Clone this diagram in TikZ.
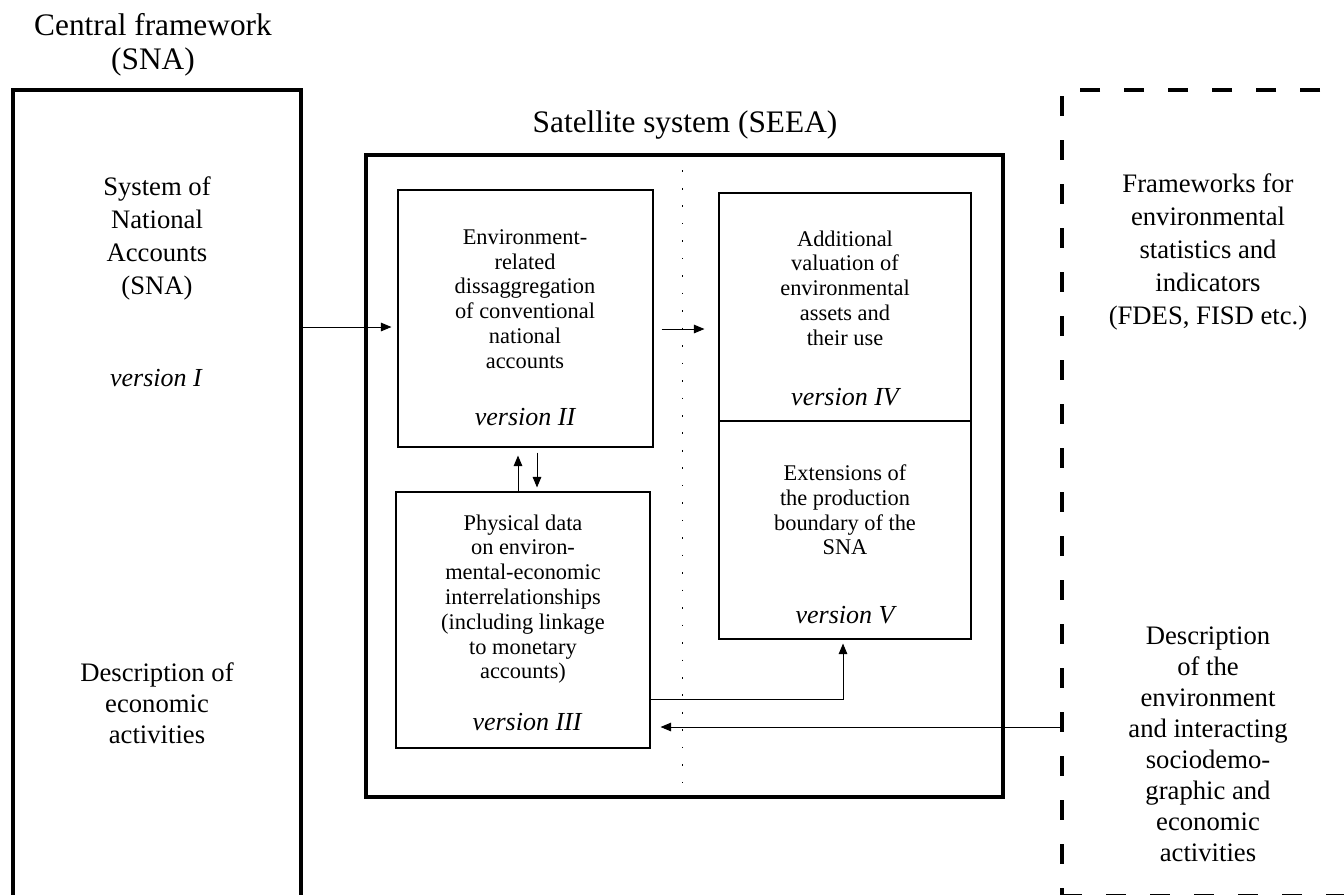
\documentclass[tikz,border=0pt]{standalone}
\usepackage{fontspec}
\setmainfont{Liberation Serif}
\usetikzlibrary{arrows.meta,calc}
\begin{document}
\begin{tikzpicture}[x=0.75pt,y=-0.75pt,
  thickbox/.style={draw,line width=3pt,inner sep=0pt},
  thinbox/.style={draw,line width=0.8pt,inner sep=0pt},
  dashbox/.style={draw,line width=3pt,inner sep=0pt,dash pattern=on 15pt off 18pt},
  titlef/.style={inner sep=0pt,align=center,font=\fontsize{23.5pt}{25.5pt}\selectfont},
  bigtxt/.style={inner sep=0pt,align=center,font=\fontsize{20pt}{24.75pt}\selectfont},
  bigtxtb/.style={inner sep=0pt,align=center,font=\fontsize{20pt}{23.25pt}\selectfont},
  boxtxt/.style={inner sep=0pt,align=center,font=\fontsize{16.8pt}{18.6pt}\selectfont},
  vers/.style={inner sep=0pt,font=\fontsize{19.5pt}{21pt}\selectfont\itshape},
  arr/.style={-{Triangle[length=8pt,width=6.5pt]},line width=0.75pt},
  dotline/.style={line width=0.7pt,dash pattern=on 1.2pt off 11.9pt}
]
\useasboundingbox (0,0) rectangle (1344,894);
\clip (0,0) rectangle (1344,894);

% titles
\node[titlef] (cf) at (153,45) {Central framework\\(SNA)};
\node[titlef] (sat) at (685,125) {Satellite system (SEEA)};

% main frames
\node[thickbox,minimum width=216pt,minimum height=605.25pt] (sna) at (157,493.5) {};
\node[thickbox,minimum width=477.75pt,minimum height=481.5pt] (seea) at (684.5,476) {};
\node[dashbox,minimum width=223.5pt,minimum height=604.5pt] (fw) at (1211,493) {};

% inner boxes
\node[thinbox,minimum width=191.25pt,minimum height=192.75pt] (ii) at (525.5,318.5) {};
\node[thinbox,minimum width=190.5pt,minimum height=192pt] (iii) at (523,620) {};
\node[thinbox,minimum width=189pt,minimum height=171pt] (iv) at (845,307) {};
\node[thinbox,minimum width=189pt,minimum height=163.5pt] (v) at (845,530) {};

% dotted separator
\coordinate (dx) at (682,0);
\draw[dotline] (seea.north -| dx) -- (seea.south -| dx);

% left texts
\node[bigtxt] (snatxt) at (157,238) {System of\\National\\Accounts\\(SNA)};
\node[vers] (v1) at (156,378) {version I};
\node[bigtxtb] (desc1) at (157,703) {Description of\\economic\\activities};

% box texts
\node[boxtxt] (t2) at (525,299) {Environment-\\related\\dissaggregation\\of conventional\\national\\accounts};
\node[vers] (v2) at (525,417) {version II};
\node[boxtxt] (t3) at (523,599) {Physical data\\on environ-\\mental-economic\\interrelationships\\(including linkage\\to monetary\\accounts)};
\node[vers] (v3) at (527,722) {version III};
\node[boxtxt] (t4) at (845,288) {Additional\\valuation of\\environmental\\assets and\\their use};
\node[vers] (v4) at (845,397) {version IV};
\node[boxtxt] (t5) at (845,510) {Extensions of\\the production\\boundary of the\\SNA};
\node[vers] (v5) at (845,615) {version V};

% right texts
\node[bigtxt] (fwtxt) at (1208,252) {Frameworks for\\environmental\\statistics and\\indicators\\(FDES, FISD etc.)};
\node[bigtxtb] (desc2) at (1208,744) {Description\\of the\\environment\\and interacting\\sociodemo-\\graphic and\\economic\\activities};

% connectors
\coordinate (r1) at (0,327);
\coordinate (r2) at (0,329);
\coordinate (r3) at (0,699);
\coordinate (r4) at (0,727);
\coordinate (u1) at (518,0);
\coordinate (d1) at (537,0);
\coordinate (c3) at (843,0);
\draw[arr] (sna.east |- r1) -- ($(ii.west |- r1)+(-6,0)$);
\draw[arr] ($(ii.east |- r2)+(8,0)$) -- ($(iv.west |- r2)+(-14,0)$);
\draw[arr] (iii.north -| u1) -- ($(ii.south -| u1)+(0,8)$);
\draw[arr] ($(ii.south -| d1)+(0,5)$) -- ($(iii.north -| d1)+(0,-4)$);
\draw[arr] (iii.east |- r3) -| ($(v.south -| c3)+(0,4)$);
\draw[arr] (fw.west |- r4) -- ($(iii.east |- r4)+(10,0)$);
\end{tikzpicture}
\end{document}
